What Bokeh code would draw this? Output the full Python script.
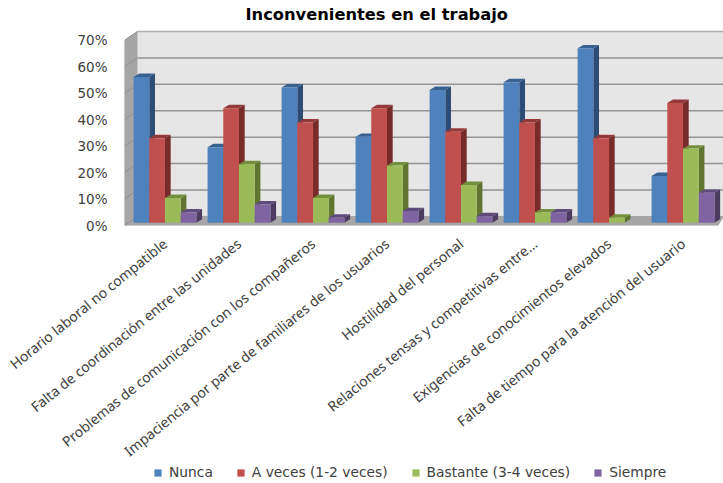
import math
from bokeh.plotting import figure
from bokeh.layouts import column
from bokeh.models import FixedTicker, Legend, LegendItem
from bokeh.embed import file_html
from bokeh.resources import INLINE

categories = ["Horario laboral no compatible", "Falta de coordinación entre las unidades",
              "Problemas de comunicación con los compañeros", "Impaciencia por parte de familiares de los usuarios",
              "Hostilidad del personal", "Relaciones tensas y competitivas entre...",
              "Exigencias de conocimientos elevados", "Falta de tiempo para la atención del usuario"]
nunca = [56, 29, 52, 33, 51, 54, 67, 18]
a_veces = [32.5, 44, 38.5, 44, 35, 38.5, 32.5, 46]
bastante = [9.5, 22.5, 9.5, 22, 14.5, 4, 2, 28.5]
siempre = [4, 7, 2, 4.5, 2.5, 4, 0, 11.5]
series_names = ["Nunca", "A veces (1-2 veces)", "Bastante (3-4 veces)", "Siempre"]
series_values = [nunca, a_veces, bastante, siempre]
front_colors = ["#4F81BD", "#C0504D", "#9BBB59", "#8064A2"]
side_colors = ["#2C4D75", "#772C2A", "#5F7530", "#4D3B62"]
top_colors = ["#3A6290", "#94393A", "#74903F", "#5F4A7C"]
y_ticks = [0, 10, 20, 30, 40, 50, 60, 70]

X0, X1, Y1 = -0.547, 7.547, 75.67
WALL_DX, WALL_DY = 0.1757, 3.42
BAR_W = 0.2122
BAR_DX, BAR_DY = 0.077, 1.3
BAR_BASE, BAR_K = 1.03, 0.985

p = figure(width=723, height=476, output_backend="svg", toolbar_location=None,
           x_range=(X0, X1), y_range=(0, Y1), min_border_left=124, min_border_right=0,
           min_border_top=25, min_border_bottom=251, outline_line_color=None,
           background_fill_color="white", border_fill_color="white")
p.grid.visible = False

p.title.text = "Inconvenientes en el trabajo"
p.title.text_font = "DejaVu Sans"
p.title.text_font_size = "16.3px"
p.title.text_font_style = "bold"
p.title.text_color = "black"
p.title.align = "left"
p.title.offset = 121
p.title.standoff = 3

# walls
p.patch([X0, X0 + WALL_DX, X0 + WALL_DX, X0], [0, WALL_DY, 70 + WALL_DY, 70], fill_color="#A6A6A6", line_color="#A6A6A6")
p.quad(left=[X0 + WALL_DX], right=[X1], bottom=[WALL_DY], top=[70 + WALL_DY], fill_color="#E6E6E6",
       line_color=None)
p.patch([X0, X0 + WALL_DX, X1, X1 - 0.077], [0, WALL_DY, WALL_DY, 0], fill_color="#A6A6A6", line_color="#A6A6A6")
for v in y_ticks:
    if v > 0:
        p.line([X0 + WALL_DX, X1], [v + WALL_DY, v + WALL_DY], line_color="#939393" if v < 70 else "#B0B0B0", line_width=1.5)
    p.line([X0, X0 + WALL_DX], [v, v + WALL_DY], line_color="#8E8E8E", line_width=1)

for s, vals in enumerate(series_values):
    off = (s - 1.5) * BAR_W
    shown = [i for i, v in enumerate(vals) if v > 0]
    lefts = [i + off - BAR_W / 2 for i in shown]
    rights = [i + off + BAR_W / 2 for i in shown]
    tops = [BAR_BASE + BAR_K * vals[i] for i in shown]
    sx = [[r, r + BAR_DX, r + BAR_DX, r] for r in rights]
    sy = [[BAR_BASE, BAR_BASE + BAR_DY, t + BAR_DY, t] for t in tops]
    tx = [[l, l + BAR_DX, r + BAR_DX, r] for l, r in zip(lefts, rights)]
    ty = [[t, t + BAR_DY, t + BAR_DY, t] for t in tops]
    p.patches(sx, sy, fill_color=side_colors[s], line_color=None)
    p.patches(tx, ty, fill_color=top_colors[s], line_color=None)
    p.quad(left=lefts, right=rights, bottom=BAR_BASE, top=tops, fill_color=front_colors[s], line_color=None)

p.yaxis.ticker = FixedTicker(ticks=y_ticks)
p.yaxis.major_label_overrides = {v: f"{v}%" for v in y_ticks}
p.yaxis.axis_line_color = None
p.yaxis.major_tick_line_color = None
p.yaxis.minor_tick_line_color = None
p.yaxis.major_label_standoff = 11
p.yaxis.major_label_text_font = "DejaVu Sans"
p.yaxis.major_label_text_font_size = "13.5px"
p.yaxis.major_label_text_color = "#404040"

p.xaxis.ticker = FixedTicker(ticks=list(range(len(categories))))
p.xaxis.major_label_overrides = {i: c for i, c in enumerate(categories)}
p.xaxis.major_label_orientation = math.radians(39)
p.xaxis.axis_line_color = None
p.xaxis.major_tick_line_color = None
p.xaxis.minor_tick_line_color = None
p.xaxis.major_label_standoff = 10
p.xaxis.major_label_text_font = "Noto Sans"
p.xaxis.major_label_text_font_size = "14px"
p.xaxis.major_label_text_color = "#404040"

# legend strip under the chart
lg = figure(width=723, height=23, output_backend="svg", toolbar_location=None, min_border=0,
            x_range=(0, 1), y_range=(0, 1), outline_line_color=None, margin=(-16, 0, 0, 0),
            background_fill_alpha=0, border_fill_alpha=0)
lg.grid.visible = False
lg.axis.visible = False
items = []
for s, name in enumerate(series_names):
    r = lg.quad(left=[2], right=[3], bottom=[2], top=[3], fill_color=front_colors[s], line_color=None)
    items.append(LegendItem(label=name, renderers=[r]))
legend = Legend(items=items, orientation="horizontal", location=(29, 3), spacing=23, label_standoff=7,
                glyph_width=9, glyph_height=9, margin=0, padding=0, background_fill_alpha=0, border_line_color=None,
                label_text_font="DejaVu Sans", label_text_font_size="13.8px", label_text_color="#404040")
lg.add_layout(legend, "center")

open("out.html", "w").write(file_html(column(p, lg, spacing=0), INLINE))
